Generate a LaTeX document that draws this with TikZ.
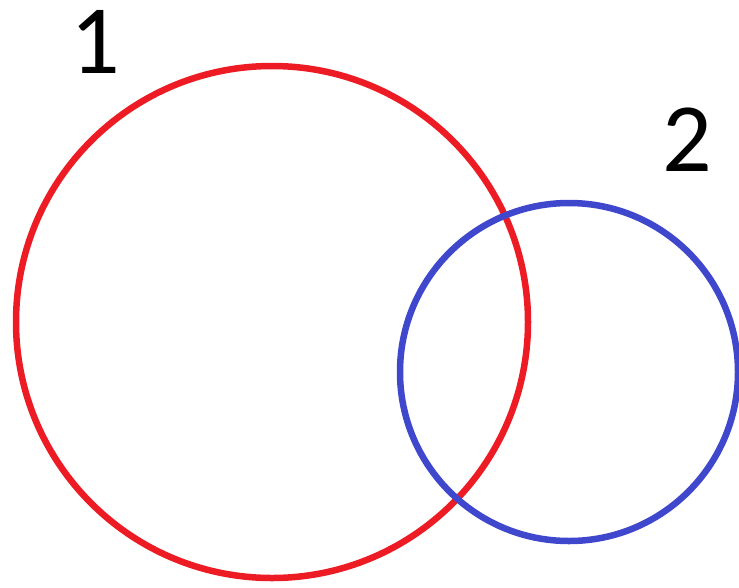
\documentclass[tikz,border=0pt]{standalone}
\usepackage{fontspec}
\setmainfont{Carlito}
\definecolor{setRed}{RGB}{237,28,36}
\definecolor{setBlue}{RGB}{63,72,204}
\tikzset{
  setline/.style={line width=6.5pt},
  setlabel/.style={inner sep=0pt, font=\fontsize{98}{98}\selectfont}
}

\begin{document}
\begin{tikzpicture}[x=1pt, y=-1pt]
    \useasboundingbox (0,0) rectangle (739,587);
    \draw[setline, setRed] (272,322) circle (256);
    \draw[setline, setBlue] (569,372) circle (169);
    \node[setlabel] (lblOne) at (95,41.5) {1};
    \node[setlabel] (lblTwo) at (687,139.5) {2};
  \end{tikzpicture}
\end{document}
